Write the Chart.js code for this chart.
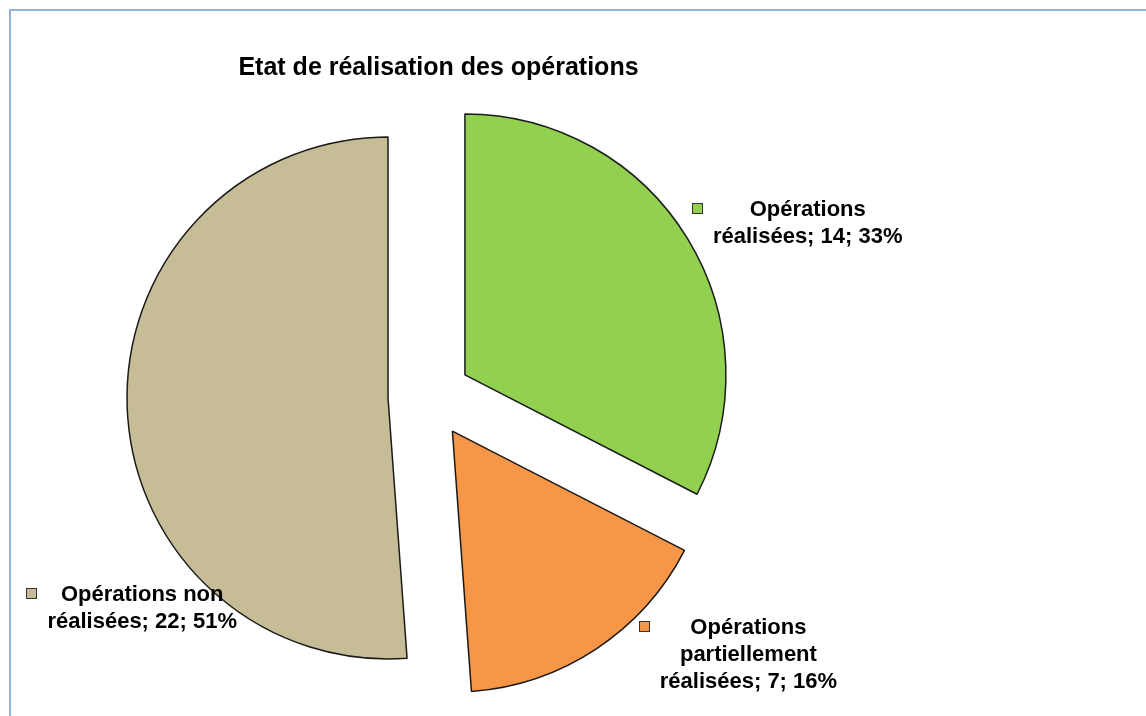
<!DOCTYPE html>
<html>
<head>
<meta charset="utf-8">
<title>Etat de réalisation des opérations</title>
<script src="https://cdn.jsdelivr.net/npm/chart.js@4.4.1/dist/chart.umd.min.js"></script>
<style>
  html, body { margin: 0; padding: 0; background: #fff; overflow: hidden; }
  .frame {
    position: absolute; left: 9px; top: 9px; width: 1200px; height: 800px;
    border-top: 2px solid #95b3d7; border-left: 2px solid #95b3d7;
  }
  .wrap { position: absolute; left: 0; top: 0; width: 1146px; height: 716px; }
</style>
</head>
<body>
<div class="frame"></div>
<div class="wrap"><canvas id="pieChart" width="1146" height="716"></canvas></div>
<script>
const titleText = 'Etat de réalisation des opérations';
const categories = ['Opérations réalisées', 'Opérations partiellement réalisées', 'Opérations non réalisées'];
const counts = [14, 7, 22];
const sliceColors = ['#92d050', '#f79646', '#c6bd97'];

// label text is broken over lines the same way for each slice
const labelLines = [
  ['Opérations', 'réalisées; {v}; {p}%'],
  ['Opérations', 'partiellement', 'réalisées; {v}; {p}%'],
  ['Opérations non', 'réalisées; {v}; {p}%']
];
// nudge of each label block from the outer edge of its slice (centre x, first line y)
const labelNudge = [[120, -29], [152, -21], [15, 187]];

const FONT = '"Liberation Sans", Arial, sans-serif';
const RADIUS = 261;
const EXPLODE = 41.5;

const total = counts.reduce((a, b) => a + b, 0);

// Chart.js moves an arc out by offset/4 but also grows its radius by offset/4 * fix
// (fix depends on the slice angle) and trims its ends a little; undo both so every
// slice keeps the same radius and its full angle.
const sliceFix = counts.map(v => 1 - Math.sin(Math.min(Math.PI, v / total * 2 * Math.PI)));
const sliceGrow = sliceFix.map(f => EXPLODE * f);
const sliceTrim = sliceGrow.map(g => g / (2 * Math.PI * RADIUS));

const evenRadius = {
  id: 'evenRadius',
  afterDatasetsUpdate(chart) {
    chart.getDatasetMeta(0).data.forEach((arc, i) => {
      arc.outerRadius = RADIUS - sliceGrow[i];
      arc.startAngle -= sliceTrim[i];
      arc.endAngle += sliceTrim[i];
    });
  }
};

const pieLabels = {
  id: 'pieLabels',
  afterDraw(chart) {
    const ctx = chart.ctx;
    const meta = chart.getDatasetMeta(0);

    ctx.save();
    ctx.fillStyle = '#000';
    ctx.textAlign = 'center';
    ctx.textBaseline = 'middle';
    ctx.font = 'bold 25px ' + FONT;
    ctx.fillText(titleText, 438.5, 68);

    meta.data.forEach((arc, i) => {
      const p = arc.getProps(['x', 'y', 'startAngle', 'endAngle'], true);
      const mid = (p.startAngle + p.endAngle) / 2;
      const ex = p.x + Math.cos(mid) * (RADIUS + EXPLODE);
      const ey = p.y + Math.sin(mid) * (RADIUS + EXPLODE);
      const cx = ex + labelNudge[i][0];
      const cy = ey + labelNudge[i][1];
      const pct = Math.round(counts[i] / total * 100);
      const lines = labelLines[i].map(s => s.replace('{v}', counts[i]).replace('{p}', pct));

      ctx.font = 'bold 22px ' + FONT;
      const blockW = Math.max(...lines.map(s => ctx.measureText(s).width));
      lines.forEach((s, k) => ctx.fillText(s, cx, cy + k * 27));

      // legend key
      const kx = Math.round(cx - blockW / 2 - 21);
      const ky = Math.round(cy - 7);
      ctx.fillStyle = sliceColors[i];
      ctx.fillRect(kx, ky, 11, 11);
      ctx.strokeStyle = '#333';
      ctx.lineWidth = 1;
      ctx.strokeRect(kx + 0.5, ky + 0.5, 10, 10);
      ctx.fillStyle = '#000';
    });
    ctx.restore();
  }
};

new Chart(document.getElementById('pieChart'), {
  type: 'pie',
  data: {
    labels: categories,
    datasets: [{
      data: counts,
      backgroundColor: sliceColors,
      borderColor: '#1a1a1a',
      borderWidth: 1.5,
      offset: EXPLODE * 4,
      hoverOffset: EXPLODE * 4
    }]
  },
  options: {
    responsive: false,
    animation: false,
    events: [],
    radius: RADIUS,
    layout: { padding: { left: 0, right: 287, top: 77, bottom: 0 } },
    plugins: {
      legend: { display: false },
      title: { display: false },
      tooltip: { enabled: false }
    }
  },
  plugins: [evenRadius, pieLabels]
});
</script>
</body>
</html>
